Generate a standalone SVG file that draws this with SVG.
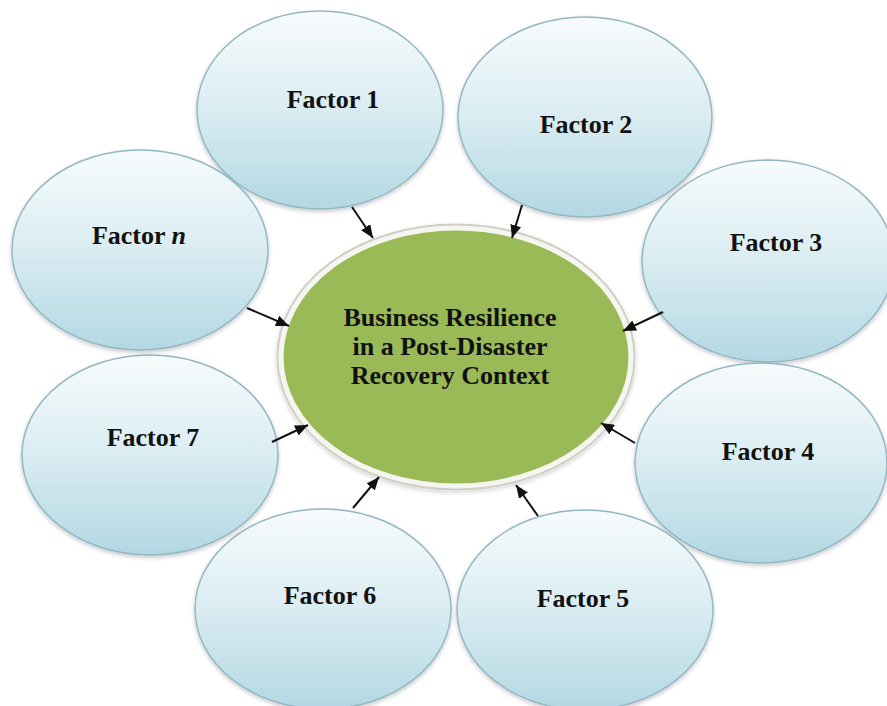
<svg xmlns="http://www.w3.org/2000/svg" width="887" height="706" viewBox="0 0 887 706">
  <defs>
    <linearGradient id="bubble" x1="0" y1="0" x2="0" y2="1">
      <stop offset="0" stop-color="#f7fbfc"/>
      <stop offset="0.45" stop-color="#ddeef3"/>
      <stop offset="1" stop-color="#b3d8e3"/>
    </linearGradient>
    <filter id="soft" x="-10%" y="-10%" width="120%" height="125%">
      <feGaussianBlur in="SourceAlpha" stdDeviation="2"/>
      <feOffset dx="0" dy="2" result="b"/>
      <feComponentTransfer><feFuncA type="linear" slope="0.22"/></feComponentTransfer>
      <feMerge><feMergeNode/><feMergeNode in="SourceGraphic"/></feMerge>
    </filter>
    <marker id="head" viewBox="0 0 13 11" refX="13" refY="5.5" markerWidth="13" markerHeight="11" markerUnits="userSpaceOnUse" orient="auto">
      <path d="M0,0 L13,5.5 L0,11 Z" fill="#111"/>
    </marker>
  </defs>
  <style>
    .factor ellipse { fill: url(#bubble); stroke: #93b8c4; stroke-width: 1.5; filter: url(#soft); }
    .label { font-family: "Liberation Serif", "Times New Roman", serif; font-weight: bold; font-size: 26px; fill: #111; text-anchor: middle; }
    .link { stroke: #111; stroke-width: 2; fill: none; marker-end: url(#head); }
  </style>
  <rect width="887" height="706" fill="#ffffff"/>

  <!-- outer factors -->
  <g id="factor-1" class="factor">
    <ellipse cx="320" cy="110" rx="123" ry="99"/>
    <text class="label" x="333" y="108">Factor 1</text>
  </g>
  <g id="factor-2" class="factor">
    <ellipse cx="585" cy="117" rx="127" ry="100"/>
    <text class="label" x="586" y="133">Factor 2</text>
  </g>
  <g id="factor-3" class="factor">
    <ellipse cx="768" cy="261" rx="126" ry="101"/>
    <text class="label" x="776" y="251">Factor 3</text>
  </g>
  <g id="factor-4" class="factor">
    <ellipse cx="761" cy="463" rx="126" ry="100"/>
    <text class="label" x="768" y="460">Factor 4</text>
  </g>
  <g id="factor-5" class="factor">
    <ellipse cx="585" cy="610" rx="128" ry="100"/>
    <text class="label" x="583" y="607">Factor 5</text>
  </g>
  <g id="factor-6" class="factor">
    <ellipse cx="323" cy="609" rx="128" ry="100"/>
    <text class="label" x="330" y="604">Factor 6</text>
  </g>
  <g id="factor-7" class="factor">
    <ellipse cx="150" cy="455" rx="128" ry="100"/>
    <text class="label" x="153" y="446">Factor 7</text>
  </g>
  <g id="factor-n" class="factor">
    <ellipse cx="140" cy="250" rx="128" ry="100"/>
    <text class="label" x="139" y="244">Factor <tspan font-style="italic">n</tspan></text>
  </g>

  <!-- central concept -->
  <g id="core">
    <ellipse cx="456" cy="357" rx="178" ry="132" fill="none" stroke="#cfcfc6" stroke-width="3" filter="url(#soft)"/>
    <ellipse cx="456" cy="357" rx="175" ry="129" fill="#9aba57" stroke="#f6f6f1" stroke-width="5"/>
    <text class="label" x="450" y="326">Business Resilience</text>
    <text class="label" x="450" y="355">in a Post-Disaster</text>
    <text class="label" x="450" y="384">Recovery Context</text>
  </g>

  <!-- connectors -->
  <g id="connectors">
    <line class="link" x1="352" y1="207" x2="373" y2="238"/>
    <line class="link" x1="522" y1="205" x2="512" y2="238"/>
    <line class="link" x1="663" y1="312" x2="623" y2="331"/>
    <line class="link" x1="635" y1="443" x2="601" y2="423"/>
    <line class="link" x1="538" y1="516" x2="516" y2="485"/>
    <line class="link" x1="353" y1="508" x2="379" y2="477"/>
    <line class="link" x1="272" y1="442" x2="308" y2="425"/>
    <line class="link" x1="247" y1="308" x2="289" y2="326"/>
  </g>
</svg>
